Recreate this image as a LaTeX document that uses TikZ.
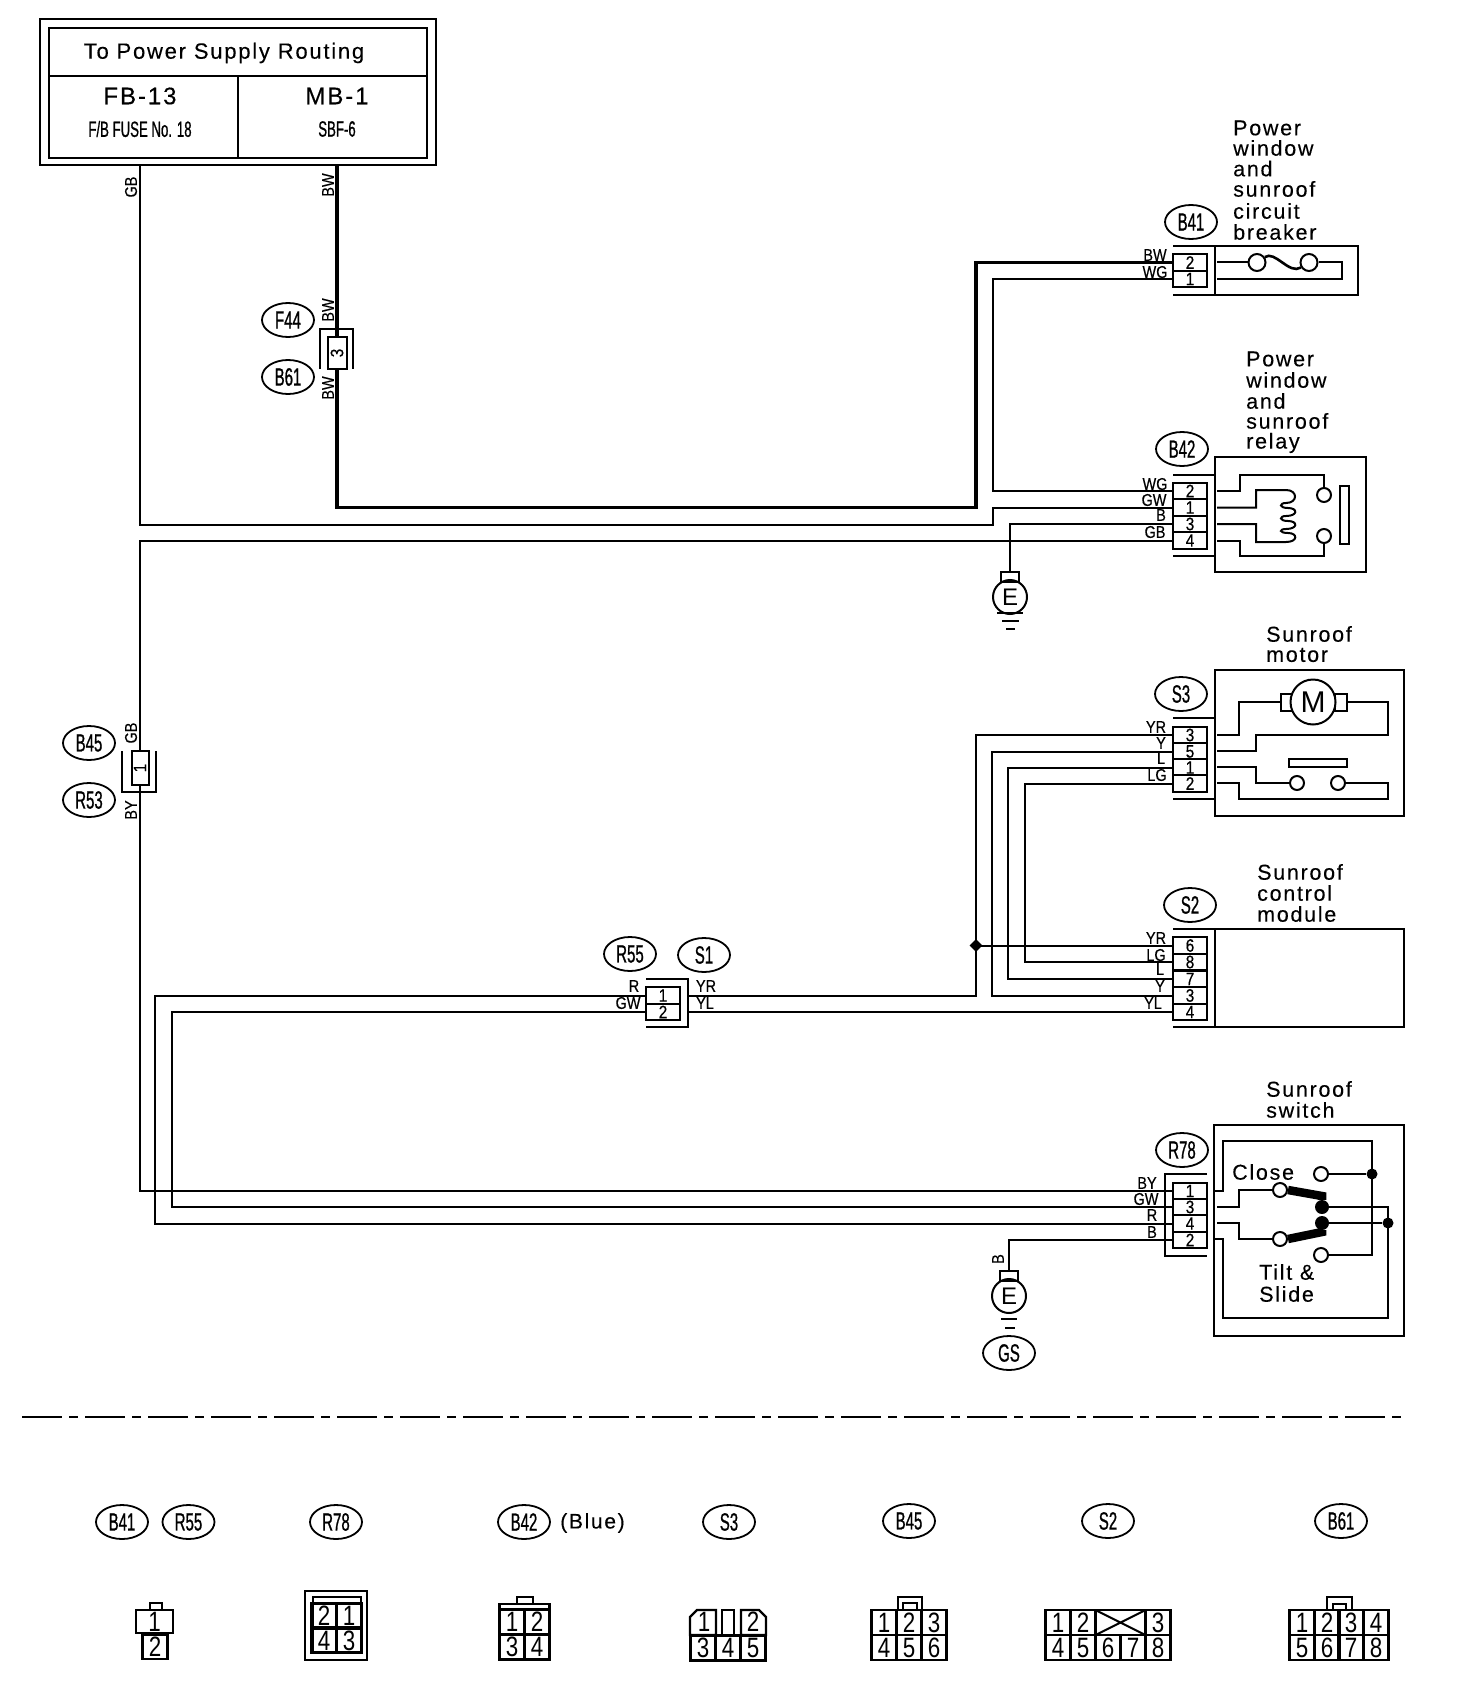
\documentclass[tikz,border=0pt]{standalone}
\usepackage{fontspec}
\usepackage{tikz}
\usetikzlibrary{shapes.geometric}
\setmainfont{Liberation Sans}
\newfontfamily\namefont[LetterSpace=8,FakeBold=0.2]{Liberation Sans}
\newfontfamily\tagfont[FakeStretch=0.6,FakeBold=0.8]{Liberation Sans}
\newfontfamily\wirefont[FakeStretch=0.85,FakeBold=0.4]{Liberation Sans}
\newfontfamily\digitfont[FakeStretch=0.8]{Liberation Sans}
\newcommand{\px}[1]{\fontsize{#1}{#1}\selectfont}
\tikzset{
    wire/.style={line width=2pt},
    heavywire/.style={line width=3.4pt},
    boxline/.style={line width=2.4pt},
    tagoval/.style={draw, ellipse, line width=1.8pt, minimum width=52pt, minimum height=34pt, inner sep=0pt, font=\tagfont\px{25}},
    pincell/.style={draw, line width=2pt, fill=white, minimum width=34pt, minimum height=16.5pt, inner sep=0pt, font=\wirefont\px{18}},
    wirelabel/.style={inner sep=0pt, font=\wirefont\px{17}},
    partname/.style={anchor=west, inner sep=0pt, font=\namefont\px{21.5}},
    cell/.style={draw, line width=2.4pt, minimum width=25pt, minimum height=25pt, inner sep=0pt, font=\digitfont\px{28}},
    contact/.style={draw, circle, line width=2pt, fill=white, minimum size=14pt, inner sep=0pt},
    joint/.style={fill, circle, minimum size=11pt, inner sep=0pt},
    earth/.style={draw, circle, line width=2pt, minimum size=34pt, inner sep=0pt, font=\px{24}},
    earthcap/.style={draw, line width=2pt, minimum width=18pt, minimum height=10pt, inner sep=0pt}
}
\begin{document}
\begin{tikzpicture}[x=1pt, y=-1pt]
    \useasboundingbox (0,0) rectangle (1472,1704);

    % Power supply box
    \draw[boxline] (40,19) rectangle (436,165);
    \node[draw, boxline, minimum width=378pt, minimum height=48pt, inner sep=0pt] (routingcell) at (238,52) {};
    \node[draw, boxline, minimum width=189pt, minimum height=82pt, inner sep=0pt] (fbcell) at (143.5,117) {};
    \node[draw, boxline, minimum width=189pt, minimum height=82pt, inner sep=0pt] (mbcell) at (332.5,117) {};
    \node[inner sep=0pt, font=\namefont\px{22}] (routingtext) at (224,53) {To Power Supply Routing};
    \node[inner sep=0pt, font=\namefont\px{24}] (fbtext) at (140,96) {FB-13};
    \node[inner sep=0pt, font=\namefont\px{24}] (mbtext) at (337,96) {MB-1};
    \node[inner sep=0pt, font=\tagfont\px{22}] (fusetext) at (140,129) {F/B FUSE No. 18};
    \node[inner sep=0pt, font=\tagfont\px{22}] (sbftext) at (337,129) {SBF-6};
    \coordinate (fbout) at (140,166);
    \coordinate (mbout) at (337,166);

    % Inline connectors
    \node[draw, line width=2pt, minimum width=19pt, minimum height=32pt, inner sep=0pt, font=\wirefont\px{18}] (b61pin) at (337,353) {\rotatebox{90}{3}};
    \draw[wire] (320,369) -- (320,329) -- (353,329) -- (353,369);
    \node[draw, line width=2pt, minimum width=17pt, minimum height=34pt, inner sep=0pt, font=\wirefont\px{18}] (b45pin) at (140,768) {\rotatebox{90}{1}};
    \draw[wire] (122,751) -- (122,792) -- (156,792) -- (156,751);
    \node[pincell] (r55p1) at (663,995.5) {1};
    \node[pincell] (r55p2) at (663,1012) {2};
    \draw[wire] (646,979) -- (688,979) -- (688,1027) -- (646,1027);
    \coordinate (r55yr) at (688,995.5);
    \coordinate (r55yl) at (688,1012);

    % Oval tags
    \foreach \name/\x/\y in {F44/288/320, B61/288/377, B45/89/743, R53/89/800, R55/630/954, S1/704/955,
        B41/1191/222, B42/1182/449, S3/1181/694, S2/1190/905, R78/1182/1150, GS/1009/1353} {
        \node[tagoval] (tag\name) at (\x,\y) {\name};
    }

    % Wire colour codes
    \foreach \code/\x/\y [count=\i] in {BW/1155/255, WG/1155/272, WG/1155/484, GW/1154/500, B/1161/515, GB/1155/532,
        YR/1156/727, Y/1161/743, L/1161/758, LG/1157/775, YR/1156/938, LG/1156/955, L/1160/969, Y/1160/986, YL/1153/1003,
        BY/1147/1183, GW/1146/1199, R/1152/1215, B/1152/1232, R/634/986, GW/628/1003, YR/706/986, YL/705/1003} {
        \node[wirelabel] (code\i) at (\x,\y) {\code};
    }
    \foreach \code/\x/\y [count=\i] in {GB/131/187, BW/328/185, BW/328/310, BW/328/388, GB/131/733, BY/131/810, B/998/1259} {
        \node[wirelabel, rotate=90] (rotcode\i) at (\x,\y) {\code};
    }

    % Circuit breaker
    \draw[boxline] (1215,246) rectangle (1358,295);
    \draw[wire] (1173,246) -- (1215,246) (1173,295) -- (1215,295);
    \foreach \n/\y in {2/262.5, 1/279} {
        \node[pincell] (b41p\n) at (1190,\y) {\n};
    }
    \node[contact, minimum size=17pt] (brkleft) at (1257,262.5) {};
    \node[contact, minimum size=17pt] (brkright) at (1309,262.5) {};
    \draw[wire] (1217,262.5) -- (brkleft);
    \draw[line width=2.6pt] (brkleft) .. controls (1275,250) and (1289,275) .. (brkright);
    \draw[wire] (brkright) -- (1342,262.5) -- (1342,279) -- (1217,279);
    \foreach \txt/\y [count=\i] in {Power/128, window/148, and/168.6, sunroof/189, circuit/211, breaker/232} {
        \node[partname] (brkname\i) at (1233,\y) {\txt};
    }

    % Relay
    \draw[boxline] (1215,457) rectangle (1366,572);
    \draw[wire] (1173,475) -- (1215,475) (1173,556) -- (1215,556);
    \foreach \n/\y in {2/491, 1/507.5, 3/524, 4/540.5} {
        \node[pincell] (b42p\n) at (1190,\y) {\n};
    }
    \node[contact] (relaytop) at (1324,495) {};
    \node[contact] (relaybot) at (1324,536) {};
    \draw[wire] (1217,491) -- (1240,491) -- (1240,475) -- (1324,475) -- (relaytop);
    \draw[wire] (1217,540.5) -- (1240,540.5) -- (1240,556) -- (1324,556) -- (relaybot);
    \draw[wire] (1217,507.5) -- (1256,507.5) -- (1256,490) -- (1286,490)
        .. controls (1298,490) and (1298,503) .. (1286,503) .. controls (1279,503) and (1279,508) .. (1288,508)
        .. controls (1298,508) and (1298,516) .. (1286,516) .. controls (1279,516) and (1279,521) .. (1288,521)
        .. controls (1298,521) and (1298,529) .. (1286,529) .. controls (1279,529) and (1279,533) .. (1288,533)
        .. controls (1298,533) and (1298,542) .. (1286,542)
        -- (1256,542) -- (1256,524) -- (1217,524);
    \draw[wire] (1340,486) rectangle (1349,544);
    \foreach \txt/\y [count=\i] in {Power/359, window/380, and/401, sunroof/421, relay/443} {
        \node[partname] (relayname\i) at (1246,\y) {\txt};
    }

    % Ground at relay
    \node[earthcap] (earthcapa) at (1010,577) {};
    \node[earth] (eartha) at (1010,597) {E};
    \draw[wire] (997,613) -- (1023,613) (1002,621) -- (1019,621) (1006,629) -- (1015,629);

    % Sunroof motor
    \draw[boxline] (1215,670) rectangle (1404,816);
    \draw[wire] (1173,718) -- (1215,718) (1173,799) -- (1215,799);
    \foreach \n/\y in {3/735, 5/751.5, 1/767.5, 2/783.5} {
        \node[pincell] (s3p\n) at (1190,\y) {\n};
    }
    \node[draw, line width=2pt, minimum width=11pt, minimum height=17pt, inner sep=0pt] (brushleft) at (1286.5,702) {};
    \node[draw, line width=2pt, minimum width=12pt, minimum height=17pt, inner sep=0pt] (brushright) at (1341,702) {};
    \node[draw, circle, fill=white, line width=2pt, minimum size=45pt, inner sep=0pt, font=\px{30}] (motor) at (1313,702) {M};
    \draw[wire] (1217,735) -- (1239,735) -- (1239,702) -- (brushleft);
    \draw[wire] (brushright) -- (1388,702) -- (1388,735) -- (1256,735) -- (1256,751) -- (1217,751);
    \node[contact] (motleft) at (1297,783) {};
    \node[contact] (motright) at (1338,783) {};
    \draw[wire] (1217,767) -- (1256,767) -- (1256,783) -- (motleft);
    \draw[wire] (motright) -- (1388,783) -- (1388,799) -- (1239,799) -- (1239,783) -- (1217,783);
    \draw[wire] (1289,759) rectangle (1347,767);
    \node[partname] (motname1) at (1266,634) {Sunroof};
    \node[partname] (motname2) at (1266,655) {motor};

    % Control module
    \draw[boxline] (1215,929) rectangle (1404,1027);
    \draw[wire] (1173,929) -- (1215,929) (1173,1027) -- (1215,1027);
    \foreach \n/\y in {6/945.5, 8/962, 7/979, 3/995.5, 4/1012} {
        \node[pincell] (s2p\n) at (1190,\y) {\n};
    }
    \foreach \txt/\y [count=\i] in {Sunroof/872, control/893, module/914} {
        \node[partname] (modname\i) at (1257,\y) {\txt};
    }

    % Sunroof switch
    \draw[boxline] (1214,1125) rectangle (1404,1336);
    \draw[wire] (1207,1174) -- (1165,1174) -- (1165,1256) -- (1207,1256);
    \foreach \n/\y in {1/1191, 3/1207, 4/1223.5, 2/1240} {
        \node[pincell] (r78p\n) at (1190,\y) {\n};
    }
    \node[contact] (swclose) at (1321,1174) {};
    \node[contact] (swtilt) at (1321,1255) {};
    \node[contact] (swup) at (1280,1190) {};
    \node[contact] (swdown) at (1280,1239) {};
    \node[joint] (jointtop) at (1372,1174) {};
    \node[joint] (jointside) at (1388,1223) {};
    \node[joint, minimum size=14pt] (pivotup) at (1322,1207) {};
    \node[joint, minimum size=14pt] (pivotdown) at (1322,1223) {};
    \draw[wire] (1215,1191) -- (1223,1191) -- (1223,1141) -- (1372,1141) -- (1372,1255) -- (swtilt);
    \draw[wire] (swclose) -- (jointtop);
    \draw[wire] (1217,1207) -- (1239,1207) -- (1239,1190) -- (swup);
    \draw[wire] (1217,1223) -- (1239,1223) -- (1239,1239) -- (swdown);
    \draw[line width=8.5pt] (swup.east) -- (1322,1196) -- (pivotup);
    \draw[line width=8.5pt] (swdown.east) -- (1322,1232) -- (pivotdown);
    \draw[wire] (pivotup) -- (1388,1207) -- (1388,1318) -- (1223,1318) -- (1223,1239) -- (1215,1239);
    \draw[wire] (pivotdown) -- (jointside);
    \node[partname] (swname1) at (1266,1089) {Sunroof};
    \node[partname] (swname2) at (1266,1110) {switch};
    \node[partname] (swclosetxt) at (1232,1172) {Close};
    \node[partname] (swtilttxt) at (1259,1272) {Tilt \&};
    \node[partname] (swslidetxt) at (1259,1294) {Slide};

    % Ground at switch
    \node[earthcap] (earthcapb) at (1009,1276) {};
    \node[earth] (earthb) at (1009,1296) {E};
    \draw[wire] (1001,1319) -- (1017,1319) (1005,1328) -- (1015,1328);

    % Wiring
    \coordinate (bwturn) at (976,507.5);
    \coordinate (gbturn) at (993,524.5);
    \coordinate (wgbus) at (993,400);
    \coordinate (yrbus) at (976,995.5);
    \coordinate (yrjoin) at (976,945.5);
    \coordinate (ybus) at (992,900);
    \coordinate (lbus) at (1008,900);
    \coordinate (lgbus) at (1025,900);
    \coordinate (rbus) at (155,1100);
    \coordinate (gwbus) at (172,1100);
    \draw[heavywire] (mbout) -- (b61pin.north);
    \draw[heavywire] (b61pin.south) |- (bwturn) |- (b41p2.west);
    \draw[wire] (fbout) |- (gbturn) |- (b42p1.west);
    \draw[wire] (b41p1.west) -| (wgbus) |- (b42p2.west);
    \draw[wire] (b42p3.west) -| (earthcapa.north);
    \draw[wire] (b42p4.west) -| (b45pin.north);
    \draw[wire] (b45pin.south) |- (r78p1.west);
    \draw[wire] (s3p3.west) -| (yrbus) -- (r55yr);
    \draw[wire] (r55yl) -- (s2p4.west);
    \draw[wire] (s3p5.west) -| (ybus) |- (s2p3.west);
    \draw[wire] (s3p1.west) -| (lbus) |- (s2p7.west);
    \draw[wire] (s3p2.west) -| (lgbus) |- (s2p8.west);
    \draw[wire] (yrjoin) -- (s2p6.west);
    \node[fill, diamond, minimum size=13pt, inner sep=0pt] (yrdot) at (yrjoin) {};
    \draw[wire] (r55p1.west) -| (rbus) |- (r78p4.west);
    \draw[wire] (r55p2.west) -| (gwbus) |- (r78p3.west);
    \draw[wire] (r78p2.west) -| (earthcapb.north);

    % Divider
    \draw[line width=2.4pt, dash pattern=on 40pt off 7pt on 9pt off 7pt] (22,1417) -- (1404,1417);

    % Connector faces: tags
    \foreach \name/\x/\y [count=\i] in {B41/122/1522, R55/188.5/1522, R78/336/1522, B42/524/1522, S3/729/1522, B45/909/1521, S2/1108/1521, B61/1341/1521} {
        \node[tagoval] (face\i) at (\x,\y) {\name};
    }
    \node[inner sep=0pt, font=\namefont\px{21}] (bluetext) at (592.5,1523) {(Blue)};

    % B41, R55 face
    \draw[wire] (149.5,1610) -- (149.5,1603) -- (162,1603) -- (162,1610);
    \node[cell, minimum width=37pt, minimum height=23pt] (oneone) at (154.5,1621.5) {1};
    \node[cell, minimum height=24pt] (onetwo) at (155,1647) {2};

    % R78 face
    \draw[boxline] (305,1591) rectangle (367,1660);
    \draw[wire] (312.5,1597) rectangle (361,1653);
    \foreach \n/\x/\y in {2/324/1615.5, 1/349/1615.5, 4/324/1640.5, 3/349/1640.5} {
        \node[cell, minimum height=24pt] (rface\n) at (\x,\y) {\n};
    }

    % B42 face
    \draw[wire] (517,1604) -- (517,1597) -- (533,1597) -- (533,1604);
    \draw[boxline] (499.5,1610) -- (499.5,1604) -- (549.5,1604) -- (549.5,1610);
    \foreach \n/\x/\y in {1/512/1622, 2/537/1622, 3/512/1647, 4/537/1647} {
        \node[cell] (bface\n) at (\x,\y) {\n};
    }

    % S3 face
    \draw[boxline] (716,1635) -- (690,1635) -- (690,1617) -- (697,1610) -- (716,1610) -- cycle;
    \draw[boxline] (741,1635) -- (766,1635) -- (766,1617) -- (759,1610) -- (741,1610) -- cycle;
    \draw[wire] (722,1635) rectangle (734,1610);
    \node[inner sep=0pt, font=\digitfont\px{28}] (sface1) at (704,1622) {1};
    \node[inner sep=0pt, font=\digitfont\px{28}] (sface2) at (753,1622) {2};
    \foreach \n/\x in {3/703, 4/728, 5/753} {
        \node[cell] (sface\n) at (\x,1648) {\n};
    }

    % B45 face
    \draw[wire] (898,1610) -- (898,1597) -- (922,1597) -- (922,1610);
    \draw[wire] (903,1610) -- (903,1603) -- (917,1603) -- (917,1610);
    \foreach \n/\x/\y in {1/884/1622.5, 2/909/1622.5, 3/934/1622.5, 4/884/1647.5, 5/909/1647.5, 6/934/1647.5} {
        \node[cell] (cface\n) at (\x,\y) {\n};
    }

    % S2 face
    \foreach \n/\x/\y in {1/1058/1622.5, 2/1083/1622.5, 3/1158/1622.5, 4/1058/1647.5, 5/1083/1647.5, 6/1108/1647.5, 7/1133/1647.5, 8/1158/1647.5} {
        \node[cell] (dface\n) at (\x,\y) {\n};
    }
    \draw[wire] (1095.5,1610) rectangle (1145.5,1635);
    \draw[wire] (1095.5,1610) -- (1145.5,1635) (1095.5,1635) -- (1145.5,1610);

    % B61 face
    \draw[wire] (1327,1610) -- (1327,1597) -- (1352,1597) -- (1352,1610);
    \draw[wire] (1333,1610) -- (1333,1604) -- (1346,1604) -- (1346,1610);
    \foreach \n/\x/\y in {1/1302/1622.5, 2/1327/1622.5, 3/1351/1622.5, 4/1376/1622.5, 5/1302/1647.5, 6/1327/1647.5, 7/1351/1647.5, 8/1376/1647.5} {
        \node[cell] (eface\n) at (\x,\y) {\n};
    }
\end{tikzpicture}
\end{document}
